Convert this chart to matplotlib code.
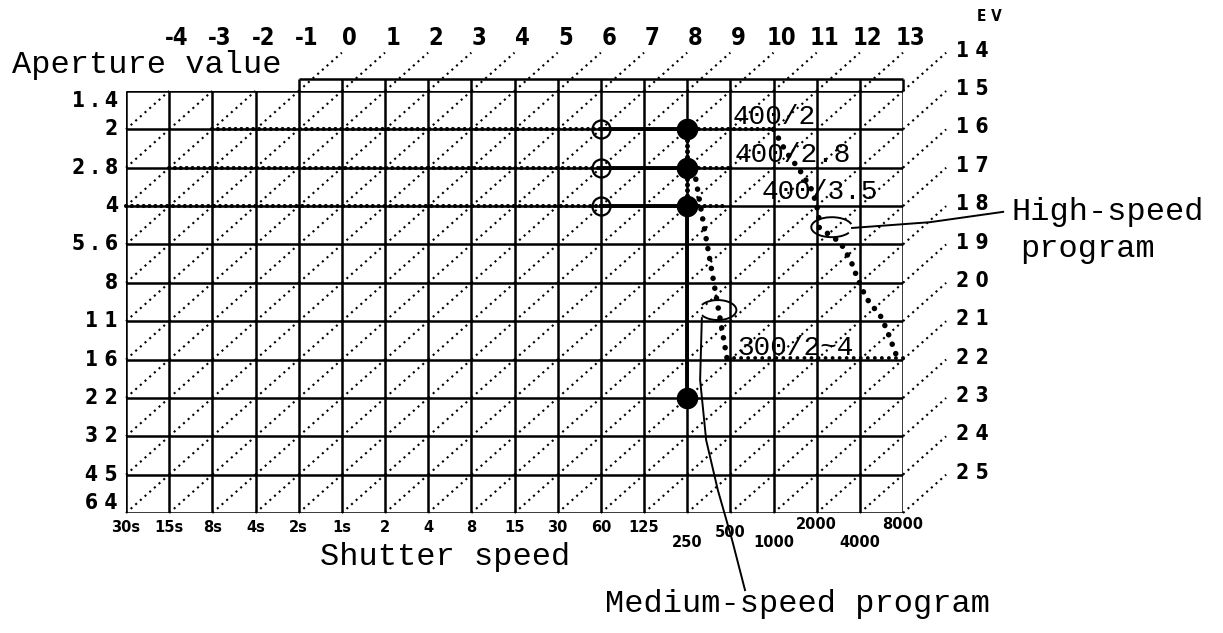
import matplotlib.pyplot as plt
from matplotlib.patches import Arc

# x axis: shutter speed as Tv (30s -> -5 ... 1/8000 -> 13)
shutter_labels = ["30s", "15s", "8s", "4s", "2s", "1s", "2", "4", "8", "15",
                  "30", "60", "125", "250", "500", "1000", "2000", "4000", "8000"]
tv_values = list(range(-5, 14))
# y axis: aperture as Av (f1.4 -> 1 ... f64 -> 12)
aperture_labels = ["1.4", "2", "2.8", "4", "5.6", "8", "11", "16", "22", "32", "45", "64"]
av_values = list(range(1, 13))
# EV lines, numbered along the top and down the right side
ev_top = list(range(-4, 14))
ev_right = list(range(14, 26))

# fixed aperture steps (f2, f2.8, f4)
step_av = [2, 3, 4]
step_tv_slow = [-3, -4, -5]     # start of the slow part
step_tv_open = 6                # 1/60, open circles
step_tv_fixed = 8               # 1/250, filled dots
step_tv_fast = [10.0, 9.05, 8.95]
dot_tv = [8, 8, 8, 8]
dot_av = [2, 3, 4, 9]

# high-speed program
high_tv = [10.0, 10.3, 10.6, 10.9, 11.05, 11.05, 11.3, 11.55, 11.8, 11.95,
           12.15, 12.5, 12.65, 12.85, 13.0]
high_av = [2.0, 2.6, 3.05, 3.6, 4.2, 4.55, 4.75, 4.95, 5.45, 5.9,
           6.4, 6.9, 7.3, 7.9, 8.0]
# medium-speed program
medium_tv = [8.2, 8.92]
medium_av = [3.3, 7.95]
bottom_tv = [8.92, 13.0]
bottom_av = [7.95, 7.95]

BOLD = dict(family="DejaVu Sans", weight="bold", fontstretch="condensed", color="k")
BOLD_WIDE = dict(family="DejaVu Sans", weight="bold", color="k")
MONO = dict(family="Liberation Mono", color="k")

fig = plt.figure(figsize=(12.23, 6.33), dpi=100)
ax = fig.add_axes([126 / 1223, 120 / 633, 777 / 1223, 422 / 633])
ax.set_xlim(-5, 13)
ax.set_ylim(12, 1)
ax.axis("off")

# grid
ax.vlines(tv_values, 1, 12, color="k", lw=1.8, zorder=2)
ax.hlines(av_values, -5, 13, color="k", lw=1.8, zorder=2)
# narrow strip above the f1.4 row
strip_av = 0.69
ax.hlines(strip_av, -1, 13, color="k", lw=1.8, clip_on=False)
ax.vlines([t for t in tv_values if t >= -1], strip_av, 1, color="k", lw=1.8, clip_on=False)

# EV diagonals inside every cell
dots = dict(color="k", lw=1.5, ls=(0, (1, 2.0)), clip_on=False, zorder=1)
for t in tv_values[:-1]:
    for a in av_values[:-1]:
        ax.plot([t, t + 1], [a + 1, a], **dots)

# extensions past the top edge and the EV numbers
for ev in ev_top:
    t = ev - 1
    if t >= -1:
        ax.plot([t, t + 1], [1, 0], **dots)
    ax.text(t + 1.18, -0.38, str(ev), ha="center", va="center", fontsize=17, **BOLD)
for ev in ev_right:
    a = ev - 13
    ax.plot([13, 14], [a, a - 1], **dots)
    ax.text(14.6, a - 1.05, " ".join(str(ev)), ha="center", va="center", fontsize=15, **BOLD)
ax.text(15.0, -0.95, "E V", ha="center", va="center", fontsize=11, **BOLD)

# aperture labels on the left
for i, (a, lab) in enumerate(zip(av_values, aperture_labels)):
    va = "top" if i == 0 else ("bottom" if i == len(av_values) - 1 else "center")
    ax.text(-5.19, a, " ".join(lab), ha="right", va=va, fontsize=15, **BOLD)

# shutter speed labels, the long ones staggered
for t, lab in zip(tv_values, shutter_labels):
    if lab in ("250", "1000", "4000"):
        y = 12.78
    elif lab in ("2000", "8000"):
        y = 12.29
    elif lab == "500":
        y = 12.5
    else:
        y = 12.39
    ax.text(t, y, lab, ha="center", va="center", fontsize=10.5, **BOLD_WIDE)

# program lines
wavy = dict(color="k", lw=3.0, ls=(0, (0.01, 1.4)), dash_capstyle="round", clip_on=False, zorder=4)
beads = dict(color="k", lw=4.0, ls=(0, (0.01, 1.8)), dash_capstyle="round", clip_on=False, zorder=4)
small_beads = dict(color="k", lw=2.8, ls=(0, (0.01, 1.8)), dash_capstyle="round", clip_on=False, zorder=4)

for a, t0, t1 in zip(step_av, step_tv_slow, step_tv_fast):
    ax.plot([t0, step_tv_open], [a, a], **wavy)
    ax.plot([step_tv_open, step_tv_fixed], [a, a], color="k", lw=2.8, zorder=4)
    ax.plot([step_tv_fixed, t1], [a, a], **wavy)

ax.plot([step_tv_fixed, step_tv_fixed], [step_av[0], step_av[-1]], color="k", lw=3.6,
        ls=(0, (0.01, 1.1)), dash_capstyle="round", zorder=4)
ax.plot([step_tv_fixed, step_tv_fixed], [step_av[-1], dot_av[-1]], color="k", lw=2.8, zorder=4)

ax.plot(high_tv, high_av, **beads)
ax.plot(medium_tv, medium_av, **beads)
ax.plot(bottom_tv, bottom_av, **small_beads)

ax.plot([step_tv_open] * 3, step_av, "o", ms=13, mfc="none", mec="k", mew=1.6, zorder=5)
ax.plot(dot_tv, dot_av, "o", ms=14.5, color="k", zorder=6)

# value notes
ax.text(9.06, 1.68, "400/2", ha="left", va="center", fontsize=20, **MONO)
ax.text(9.11, 2.67, "400/2.8", ha="left", va="center", fontsize=20, **MONO)
ax.text(9.73, 3.63, "400/3.5", ha="left", va="center", fontsize=20, **MONO)
ax.text(9.15, 7.70, "300/2~4", ha="left", va="center", fontsize=20, **MONO)

# call-out loops and leaders
ax.add_patch(Arc((11.35, 4.55), 0.95, 0.52, theta1=20, theta2=350, color="k", lw=1.4, clip_on=False))
ax.plot([11.82, 13.62, 15.32], [4.57, 4.42, 4.15], color="k", lw=1.4, clip_on=False)
ax.add_patch(Arc((8.71, 6.71), 0.86, 0.52, theta1=200, theta2=520, color="k", lw=1.4, clip_on=False))
ax.plot([8.34, 8.30, 8.44, 8.71, 9.04, 9.34], [6.92, 8.53, 10.10, 11.40, 12.70, 14.01],
        color="k", lw=1.4, clip_on=False)

# axis titles and program names
fig.text(12 / 1223, 1 - 73 / 633, "Aperture value", ha="left", va="baseline", fontsize=23, **MONO)
fig.text(445 / 1223, 1 - 557 / 633, "Shutter speed", ha="center", va="center", fontsize=23, **MONO)
fig.text(1012 / 1223, 1 - 212 / 633, "High-speed", ha="left", va="center", fontsize=23, **MONO)
fig.text(1020 / 1223, 1 - 249 / 633, "program", ha="left", va="center", fontsize=23, **MONO)
fig.text(798 / 1223, 1 - 604 / 633, "Medium-speed program", ha="center", va="center", fontsize=23, **MONO)

fig.savefig("out.png", dpi=100)
